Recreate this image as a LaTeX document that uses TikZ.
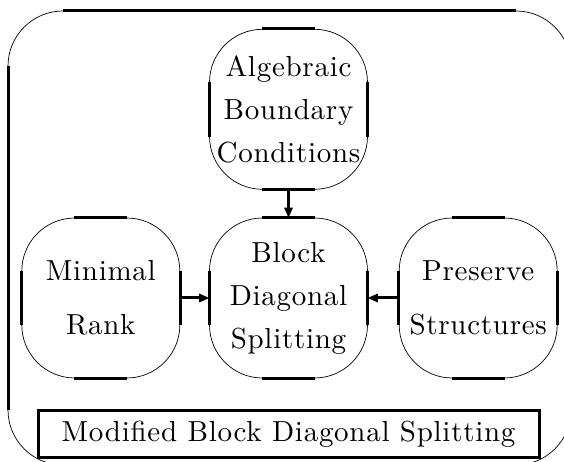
\documentclass[tikz,border=0pt]{standalone}
\usepackage{fontspec}
\newfontfamily\figfont{lmroman10-regular.otf}[LetterSpace=2.5]
\usetikzlibrary{arrows.meta, positioning}

\begin{document}
\begin{tikzpicture}[x=1pt, y=1pt,
    every node/.style={font=\figfont\fontsize{29}{43}\selectfont},
    blob/.style={draw, line width=0.7pt, rounded corners=53pt, minimum width=158pt, minimum height=160pt, align=center, inner sep=0pt},
    side/.style={line width=3pt},
    feed/.style={line width=3pt, -{Triangle[length=10pt, width=9pt, line width=0pt]}},
    banner/.style={draw, line width=3pt, minimum width=501pt, minimum height=47pt, inner sep=0pt}
]
\useasboundingbox (0,0) rectangle (564,462);
\clip (0,0) rectangle (564,462);
% Outer frame
\draw[line width=0.7pt, rounded corners=55pt] (8,-3) rectangle (571,451);
\draw[side] (63,451) -- (516,451);
\draw[side] (8,396) -- (8,52);
% Boxes
\node[blob] (bds) at (288.5,164) {Block\\Diagonal\\Splitting};
\node[blob, above=28pt of bds] (abc) {Algebraic\\Boundary\\Conditions};
\node[blob, left=29pt of bds] (mr) {Minimal\\[11pt]Rank};
\node[blob, right=31pt of bds] (ps) {Preserve\\[11pt]Structures};
\node[banner] (mbds) at (288.5,27.5) {Modified Block Diagonal Splitting};
% Straight sides drawn heavier
\foreach \n in {abc, bds, mr, ps} {
  \draw[side] ([xshift=53pt]\n.north west) -- ([xshift=-53pt]\n.north east);
  \draw[side] ([xshift=53pt]\n.south west) -- ([xshift=-53pt]\n.south east);
  \draw[side] ([yshift=-53pt]\n.north west) -- ([yshift=53pt]\n.south west);
  \draw[side] ([yshift=-53pt]\n.north east) -- ([yshift=53pt]\n.south east);
}
% Arrows
\draw[feed] (abc) -- (bds);
\draw[feed] (mr) -- (bds);
\draw[feed] (ps) -- (bds);
\end{tikzpicture}
\end{document}
